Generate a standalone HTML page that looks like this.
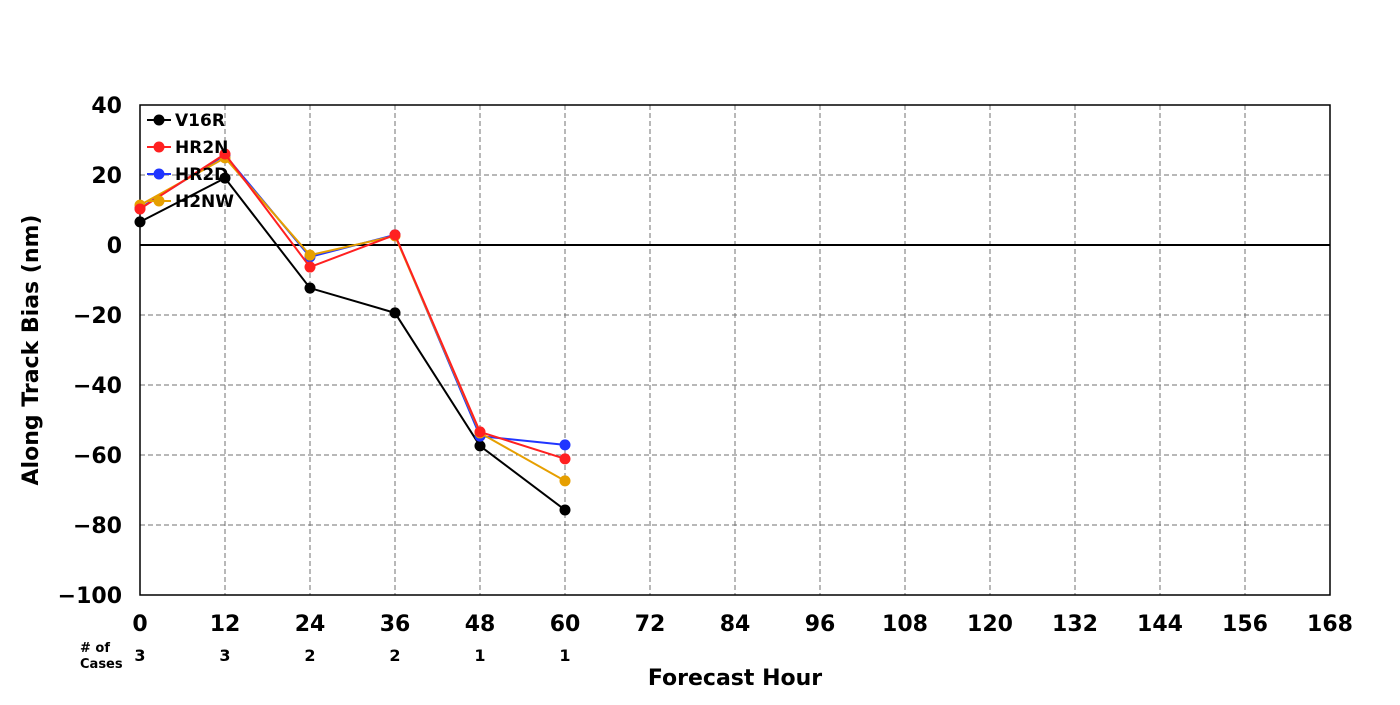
<!DOCTYPE html>
<html><head><meta charset="utf-8"><style>
body{margin:0;background:#fff;font-family:"Liberation Sans","DejaVu Sans",sans-serif;}
svg text{font-family:"DejaVu Sans","Liberation Sans",sans-serif;font-weight:bold;}
</style></head><body>
<svg id="chart" width="1400" height="700" xmlns="http://www.w3.org/2000/svg"></svg>
<script>
const xTicks=[0,12,24,36,48,60,72,84,96,108,120,132,144,156,168];
const yTicks=[40,20,0,-20,-40,-60,-80,-100];
const hours=[0,12,24,36,48,60];
const cases=[3,3,2,2,1,1];
const v16r=[6.6,19.1,-12.3,-19.4,-57.4,-75.7];
const hr2d=[10.5,25.7,-3.4,2.9,-54.6,-57.1];
const h2nw=[11.4,24.9,-2.9,2.6,-53.7,-67.4];
const hr2n=[10.3,26,-6.3,2.9,-53.4,-61.1];
const seriesNames=["V16R","HR2D","H2NW","HR2N"];
const seriesColors=["#000000","#2035ff","#e69f00","#ff2020"];
const seriesData=[v16r,hr2d,h2nw,hr2n];
const legendOrder=["V16R","HR2N","HR2D","H2NW"];

const NS="http://www.w3.org/2000/svg";
const svg=document.getElementById('chart');
const X0=140,X1=1330,Y0=105,Y1=595;
const xs=v=>X0+(v-0)/(168-0)*(X1-X0);
const ys=v=>Y0+(40-v)/(140)*(Y1-Y0);
function mk(tag,attrs,parent){const e=document.createElementNS(NS,tag);for(const k in attrs)e.setAttribute(k,attrs[k]);(parent||svg).appendChild(e);return e;}

xTicks.forEach((t,i)=>{
  if(t>0&&t<168){const g=mk('line',{x1:xs(t),x2:xs(t),y1:Y0,y2:Y1,stroke:'#707070','stroke-width':1,'stroke-dasharray':'5,3'});
  
  }
  const tx=mk('text',{x:xs(t),y:631,'text-anchor':'middle','font-size':22});
  tx.textContent=t;
  
  
});
yTicks.forEach(t=>{
  if(t<40&&t>-100&&t!==0){const g=mk('line',{x1:X0,x2:X1,y1:ys(t),y2:ys(t),stroke:'#707070','stroke-width':1,'stroke-dasharray':'5,3'});
  
  }
  const tx=mk('text',{x:122,y:ys(t)+8,'text-anchor':'end','font-size':22});
  tx.textContent=(t<0?'\u2212'+(-t):t);
  
  
});
const zl=mk('line',{x1:X0,x2:X1,y1:ys(0),y2:ys(0),stroke:'#000','stroke-width':2});


const fr=mk('rect',{x:X0,y:Y0,width:X1-X0,height:Y1-Y0,fill:'none',stroke:'#000','stroke-width':1.5});



seriesData.forEach((d,si)=>{
  const g=mk('g',{});
  
  
  mk('polyline',{points:d.map((v,i)=>xs(hours[i])+','+ys(v)).join(' '),fill:'none',stroke:seriesColors[si],'stroke-width':2},g);
  d.forEach((v,i)=>{const c=mk('circle',{cx:xs(hours[i]),cy:ys(v),r:5.5,fill:seriesColors[si]},g);
    
    });
});

legendOrder.forEach((n,i)=>{
  const col=seriesColors[seriesNames.indexOf(n)];
  const y=120+i*27;
  const g=mk('g',{});
  
  
  mk('line',{x1:147,x2:171,y1:y,y2:y,stroke:col,'stroke-width':2},g);
  mk('circle',{cx:159,cy:y,r:5.5,fill:col},g);
  const t=mk('text',{x:175,y:y+6,'font-size':17},g);t.textContent=n;
});

cases.forEach((c,i)=>{
  const t=mk('text',{x:xs(hours[i]),y:661,'text-anchor':'middle','font-size':16});
  t.textContent=c;
  
  
});
const c1=mk('text',{x:80,y:652,'font-size':13});c1.textContent='# of';


const c2=mk('text',{x:80,y:668,'font-size':13});c2.textContent='Cases';


const xt=mk('text',{x:735,y:685,'text-anchor':'middle','font-size':22});xt.textContent='Forecast Hour';


const yt=mk('text',{x:38,y:350,'text-anchor':'middle','font-size':22,transform:'rotate(-90 38 350)'});yt.textContent='Along Track Bias (nm)';


</script>
</body></html>
